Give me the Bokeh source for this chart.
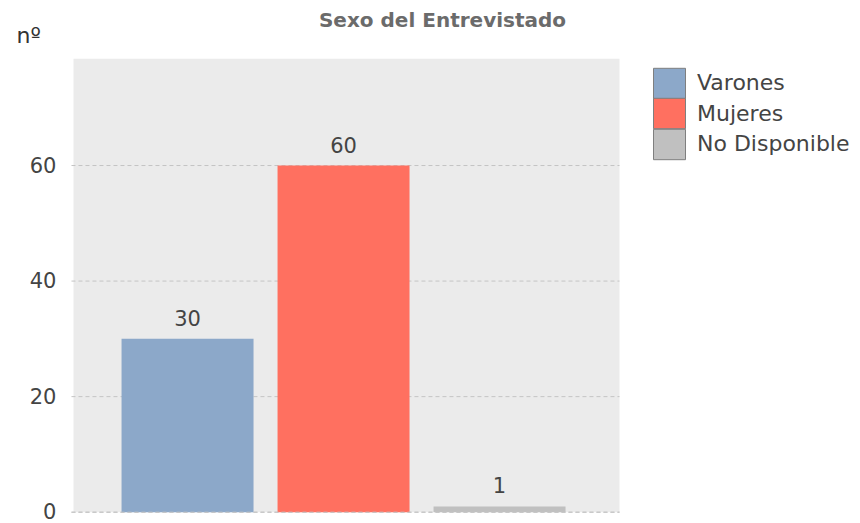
from bokeh.plotting import figure
from bokeh.models import ColumnDataSource, Range1d, Legend, LegendItem, Label, BoxAnnotation
from bokeh.core.properties import value
from bokeh.embed import file_html
from bokeh.resources import INLINE

categories = ["Varones", "Mujeres", "No Disponible"]
counts = [30, 60, 1]
colors = ["#8CA8C9", "#FF7060", "#C0C0C0"]
y_ticks = [0, 20, 40, 60]
tick_labels = ["0", "20", "40", "60"]
title_text = "Sexo del Entrevistado"
y_label_text = "nº"

W, H = 860, 523
# plot-area extent (data units) and scale
X_LEFT, X_RIGHT = -0.731, 2.769
Y_TOP = 78.5
PX_X = 156.0    # px per category step
PX_Y = 5.778    # px per unit
BAR_W = 0.846

x0 = X_LEFT - 73 / PX_X
x1 = x0 + W / PX_X
y0 = -(H - 511.7) / PX_Y
y1 = y0 + H / PX_Y

xs = list(range(len(categories)))
source = ColumnDataSource(dict(x=xs, cat=categories, n=counts, color=colors,
                               lbl=[str(c) for c in counts]))
grid_src = ColumnDataSource(dict(y=y_ticks, lbl=tick_labels,
                                 xa=[X_LEFT - 0.013] * len(y_ticks),
                                 xb=[X_RIGHT] * len(y_ticks)))

p = figure(width=W, height=H, output_backend="svg", toolbar_location=None,
           x_range=Range1d(x0, x1), y_range=Range1d(y0, y1),
           x_axis_location=None, y_axis_location=None,
           min_border=0, min_border_left=0, min_border_right=0,
           min_border_top=0, min_border_bottom=0)
p.outline_line_color = None
p.grid.visible = False
p.background_fill_color = "white"
p.border_fill_color = "white"

# plot area background
p.add_layout(BoxAnnotation(left=X_LEFT, right=X_RIGHT, bottom=0, top=Y_TOP,
                           fill_color="#EBEBEB", fill_alpha=1, line_color=None, level="underlay"))

# grid lines
p.segment(x0="xa", y0="y", x1="xb", y1="y", source=grid_src,
          line_color="#C4C4C4", line_dash="4 3", line_width=1)

# y tick labels
p.text(x="xa", y="y", text="lbl", source=grid_src, x_offset=-15, y_offset=-1,
       text_align="right", text_baseline="middle", text_font=value("DejaVu Sans"),
       text_font_size="21px", text_color="#444444")

# bars
p.vbar(x="x", top="n", width=BAR_W, source=source, fill_color="color", line_color=None)

# baseline dashed line over bar bottoms
base_src = ColumnDataSource(dict(y=y_ticks[:1], xa=[X_LEFT - 0.013], xb=[X_RIGHT]))
p.segment(x0="xa", y0="y", x1="xb", y1="y", source=base_src,
          line_color="#C4C4C4", line_dash="4 3", line_width=1)

# value labels
p.text(x="x", y="n", text="lbl", source=source, text_align="center", text_baseline="bottom",
       y_offset=-13, text_font=value("DejaVu Sans"), text_font_size="21px", text_color="#444444")

# legend (invisible renderer used only for legend swatches)
leg_r = p.vbar(x="x", top="n", width=BAR_W, source=source, fill_color="color", line_color="#7F7F7F")
leg_r.visible = False

box_top0, box_h, gh = 68.0, 30.5, 37.5
for i, c in enumerate(categories):
    item_top = box_top0 + i * box_h - gh * 0.1
    item_bottom = item_top + gh
    lg = Legend(items=[LegendItem(label=c, renderers=[leg_r], index=i)],
                location=(649, H - item_bottom), padding=0, margin=0, spacing=0,
                glyph_width=40, glyph_height=int(gh) + 1 if False else 38, label_height=20,
                label_standoff=8, border_line_color=None, background_fill_alpha=0,
                label_text_font="DejaVu Sans", label_text_font_size="22px",
                label_text_color="#444444")
    p.add_layout(lg)

# title and y unit label
p.add_layout(Label(x=442, y=H - 19, x_units="screen", y_units="screen", text=title_text,
                   text_align="center", text_baseline="middle", text_font="DejaVu Sans",
                   text_font_size="20px", text_font_style="bold", text_color="#6B6B6B"))
p.add_layout(Label(x=16, y=H - 35, x_units="screen", y_units="screen", text=y_label_text,
                   text_align="left", text_baseline="middle", text_font="DejaVu Sans",
                   text_font_size="22px", text_color="#333333"))

open("out.html", "w").write(file_html(p, INLINE))
